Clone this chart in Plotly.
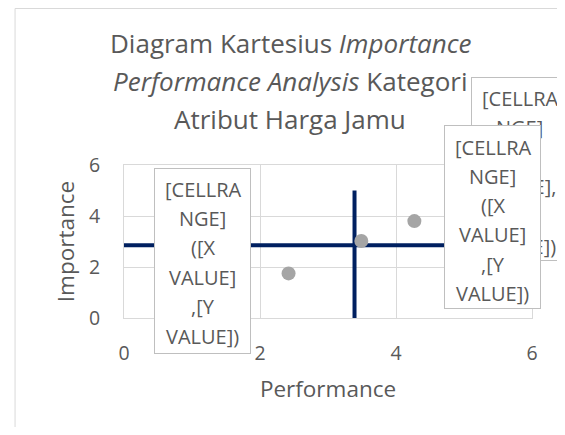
import plotly.graph_objects as go

# ---- data ----
performance = [2.42, 3.49, 4.27]
importance = [1.75, 3.02, 3.80]
vline_x = [3.39, 3.39]
vline_y = [0, 5]
hline_x = [0, 5]
hline_y = [2.85, 2.85]
tick_vals = [0, 2, 4, 6]
tick_text = ["0", "2", "4", "6"]
title_lines = [
    "Diagram Kartesius <i>Importance</i>",
    "<i>Performance Analysis</i> Kategori",
    "Atribut Harga Jamu",
]
label_a = ["[CELLRA", "NGE]", "([X", "VALUE]", ",[Y", "VALUE])"]
label_b = ["[CELLRA", "NGE]", "([X", "VALUE]", ",[Y", "VALUE])"]
label_c = ["[CELLRA", "NGE]", "([X", "VALUE],", "[Y", "VALUE])"]

# ---- layout geometry (window pixels) ----
WIN_W, WIN_H = 565, 435
OFF = 8  # page body margin
W, H = WIN_W - 2 * OFF, WIN_H - 2 * OFF
PL, PR, PT, PB = 123.5, 531.7, 165.0, 318.0
FONT = "Open Sans"
TXT = "#595959"
GRID = "#d9d9d9"


def px(xp):
    return (xp - PL) / (PR - PL)


def py(yp):
    return (PB - yp) / (PB - PT)


fig = go.Figure()
fig.add_trace(go.Scatter(x=hline_x, y=hline_y, mode="lines",
                         line=dict(color="#002060", width=4), hoverinfo="skip",
                         showlegend=False))
fig.add_trace(go.Scatter(x=vline_x, y=vline_y, mode="lines",
                         line=dict(color="#002060", width=4), hoverinfo="skip",
                         showlegend=False))
fig.add_trace(go.Scatter(x=performance, y=importance, mode="markers",
                         marker=dict(color="#a5a5a5", size=14),
                         showlegend=False))

annotations = []

# title lines
title_y = [43.5, 81.5, 118.5]
for t, yy in zip(title_lines, title_y):
    annotations.append(dict(text=t, x=px(290), y=py(yy), xref="paper", yref="paper",
                            xanchor="center", yanchor="middle", showarrow=False,
                            font=dict(family=FONT, size=26, color=TXT)))


def add_box(lines, cx, top, bottom, first, step, width=95):
    annotations.append(dict(text=" ", x=px(cx), y=py((top + bottom) / 2),
                            xref="paper", yref="paper", xanchor="center",
                            yanchor="middle", showarrow=False,
                            width=width, height=bottom - top, borderpad=0,
                            bgcolor="white", bordercolor="#bfbfbf", borderwidth=1,
                            font=dict(family=FONT, size=10, color=TXT)))
    for i, s in enumerate(lines):
        annotations.append(dict(text=s, x=px(cx), y=py(first + i * step),
                                xref="paper", yref="paper", xanchor="center",
                                yanchor="middle", showarrow=False,
                                font=dict(family=FONT, size=20, color=TXT)))


add_box(label_c, 519.5, 78.3, 260.0, 98.0, 29.6)
add_box(label_b, 492.5, 126.0, 308.3, 147.0, 29.3)
add_box(label_a, 202.2, 169.3, 353.3, 189.0, 29.4)

shapes = [dict(type="rect", xref="paper", yref="paper",
               x0=px(14.5), x1=px(640), y0=py(520), y1=py(8.5),
               line=dict(color=GRID, width=1), fillcolor="rgba(0,0,0,0)",
               layer="below")]

axis_common = dict(range=[0, 6], tickvals=tick_vals, ticktext=tick_text,
                   showgrid=True, gridcolor=GRID, gridwidth=1, zeroline=False,
                   showline=True, linecolor=GRID, linewidth=1, mirror=True,
                   ticks="", tickfont=dict(family=FONT, size=19.5, color=TXT),
                   fixedrange=True)

fig.update_layout(
    width=W, height=H,
    margin=dict(l=PL - OFF, r=(WIN_W - OFF) - PR, t=PT - OFF,
                b=(WIN_H - OFF) - PB, pad=0, autoexpand=False),
    paper_bgcolor="white", plot_bgcolor="white",
    xaxis=dict(**axis_common, ticklabelstandoff=18,
               title=dict(text="Performance", standoff=15,
                          font=dict(family=FONT, size=22.5, color=TXT))),
    yaxis=dict(**axis_common, ticklabelstandoff=19,
               title=dict(text="Importance", standoff=8,
                          font=dict(family=FONT, size=22.5, color=TXT))),
    annotations=annotations,
    shapes=shapes,
    font=dict(family=FONT, color=TXT),
)

fig.write_html("out.html")
